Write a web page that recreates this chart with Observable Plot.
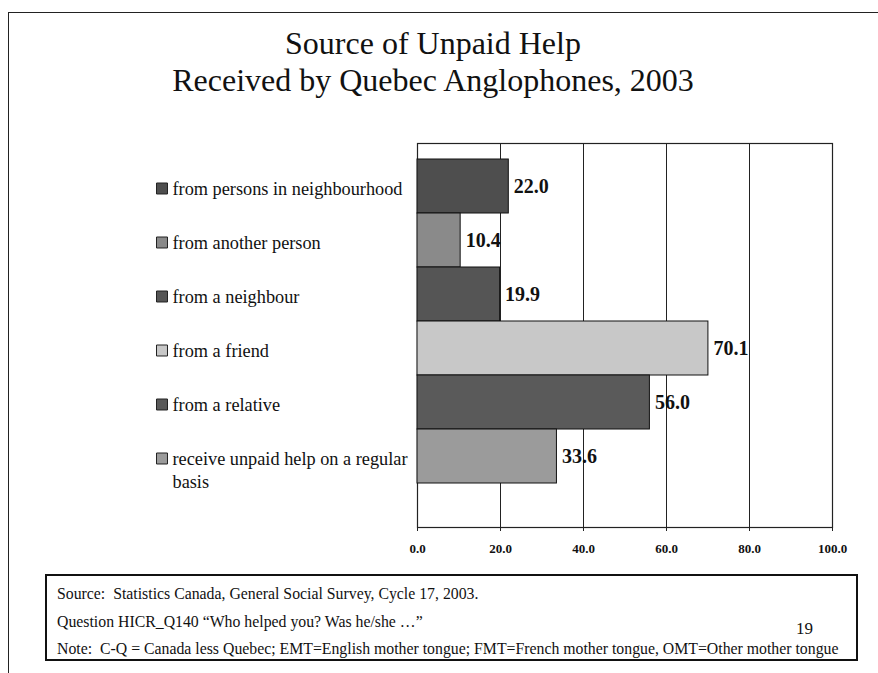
<!DOCTYPE html>
<html>
<head>
<meta charset="utf-8">
<script src="https://cdn.jsdelivr.net/npm/d3@7"></script>
<script src="https://cdn.jsdelivr.net/npm/@observablehq/plot@0.6"></script>
<style>
  body { margin: 0; background: #fff; }
  #page { position: relative; width: 878px; height: 673px; overflow: hidden; font-family: "Liberation Serif", "Times New Roman", serif; color: #111; }
  #chart { position: absolute; left: 0; top: 0; }
  #border { position: absolute; left: 8px; top: 12px; width: 900px; height: 700px; border-left: 1.5px solid #222; border-top: 1.5px solid #222; pointer-events: none; }
  #title { position: absolute; left: 0; top: 25px; width: 866px; text-align: center; font-size: 32px; line-height: 37px; }
  #note { position: absolute; left: 45px; top: 574px; width: 813px; height: 87px; border: 2px solid #111; box-sizing: border-box; font-size: 15.8px; line-height: 18px; white-space: pre; }
  #note div { position: absolute; left: 10px; }
  #pagenum { position: absolute; left: 796px; top: 620px; font-size: 17px; line-height: 18px; }
  #chart svg text { font-family: "Liberation Serif", "Times New Roman", serif; }
</style>
</head>
<body>
<div id="page">
  <div id="chart"></div>
  <div id="border"></div>
  <div id="title">Source of Unpaid Help<br>Received by Quebec Anglophones, 2003</div>
  <div id="note">
    <div style="top:9px">Source:  Statistics Canada, General Social Survey, Cycle 17, 2003.</div>
    <div style="top:37px">Question HICR_Q140 “Who helped you? Was he/she …”</div>
    <div style="top:64px">Note:  C-Q = Canada less Quebec; EMT=English mother tongue; FMT=French mother tongue, OMT=Other mother tongue</div>
  </div>
  <div id="pagenum">19</div>
</div>
<script>
const categories = [
  "from persons in neighbourhood",
  "from another person",
  "from a neighbour",
  "from a friend",
  "from a relative",
  "receive unpaid help on a regular basis"
];
const legendLabels = [
  "from persons in neighbourhood",
  "from another person",
  "from a neighbour",
  "from a friend",
  "from a relative",
  "receive unpaid help on a regular\nbasis"
];
const values = [22.0, 10.4, 19.9, 70.1, 56.0, 33.6];
const shades = ["#4e4e4e", "#8a8a8a", "#555555", "#c8c8c8", "#5a5a5a", "#9b9b9b"];
const xTicks = [0, 20, 40, 60, 80, 100];

const serif = "'Liberation Serif', 'Times New Roman', serif";
const data = categories.map((c, i) => ({ category: c, value: values[i], label: legendLabels[i] }));

const chart = Plot.plot({
  width: 878,
  height: 560,
  marginLeft: 417,
  marginRight: 46,
  marginTop: 143,
  marginBottom: 33,
  style: { background: "transparent", fontFamily: serif, color: "#111" },
  x: { domain: [0, 100], ticks: xTicks, tickFormat: d => d.toFixed(1), label: null },
  y: { domain: categories, range: [156, 485], padding: 0, axis: null },
  color: { domain: categories, range: shades },
  marks: [
    Plot.gridX(xTicks.slice(1, -1), { stroke: "#222", strokeOpacity: 1, strokeWidth: 1 }),
    Plot.frame({ stroke: "#222", strokeWidth: 1.2 }),
    Plot.barX(data, { x: "value", y: "category", fill: "category", stroke: "#111", strokeWidth: 1 }),
    Plot.text(data, { x: "value", y: "category", text: d => d.value.toFixed(1), textAnchor: "start", dx: 5, fontSize: 20, fontWeight: "bold", fontFamily: serif, fill: "#111" }),
    Plot.axisX({ ticks: xTicks, tickFormat: d => d.toFixed(1), label: null, tickSize: 4, tickPadding: 12, fontSize: 13, fontWeight: "bold", fontFamily: serif, stroke: "#222" }),
    Plot.dot(data, { y: "category", frameAnchor: "left", dx: 161.5 - 417, dy: 2, symbol: "square", r: 6.2, fill: "category", stroke: "#222", strokeWidth: 1 }),
    Plot.text(data, { y: "category", frameAnchor: "left", dx: 172 - 417, text: "label", textAnchor: "start", lineAnchor: "top", dy: -8, lineHeight: 1.25, fontSize: 18.3, fontFamily: serif, fill: "#111" })
  ]
});
document.getElementById("chart").appendChild(chart);
</script>
</body>
</html>
